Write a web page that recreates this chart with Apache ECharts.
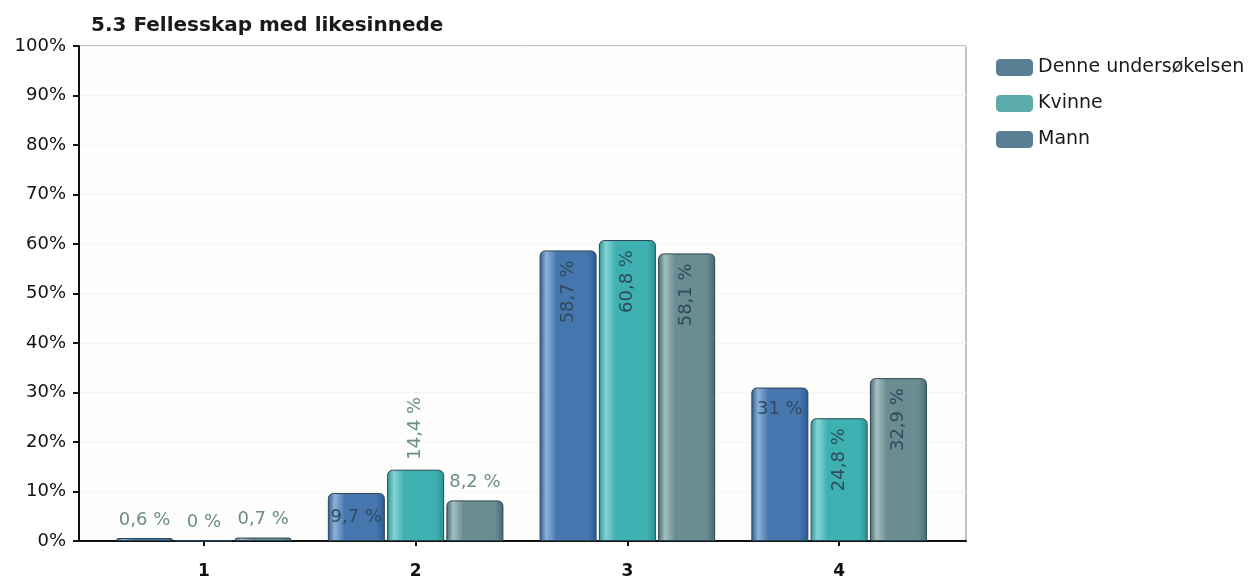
<!DOCTYPE html>
<html>
<head>
<meta charset="utf-8">
<script src="https://cdn.jsdelivr.net/npm/echarts@6/dist/echarts.min.js"></script>
<style>
  html, body { margin: 0; padding: 0; background: #ffffff; }
  #chart { width: 1259px; height: 576px; }
</style>
</head>
<body>
<div id="chart"></div>
<script>
// Answers per option, share of respondents (%)
const categories = ['1', '2', '3', '4'];
const seriesNames = ['Denne undersøkelsen', 'Kvinne', 'Mann'];
const denne  = [0.6, 9.7, 58.7, 31.0];
const kvinne = [0.0, 14.4, 60.8, 24.8];
const mann   = [0.7, 8.2, 58.1, 32.9];
const yTicks = [0, 10, 20, 30, 40, 50, 60, 70, 80, 90, 100];

// How each value label sits on its bar
const labelModes = [
  ['above', 'center', 'rotInside', 'flatInside'],
  ['above', 'rotAbove', 'rotInside', 'rotInside'],
  ['above', 'above', 'rotInside', 'rotInside']
];

const FONT = 'DejaVu Sans, Verdana, sans-serif';

const palette = [
  { dark: '#2b5a8f', light: '#8db1d8', mid: '#4676ae', legend: '#5a7f94' },
  { dark: '#2a9294', light: '#86d4d4', mid: '#3eb0b1', legend: '#5aabaa' },
  { dark: '#466a70', light: '#a6bec0', mid: '#6a8d92', legend: '#5a7f94' }
];

const fmt = v => String(v).replace('.', ',') + ' %';

function labelFor(mode) {
  const base = {
    show: true,
    fontFamily: FONT,
    fontSize: 18,
    formatter: p => fmt(p.value)
  };
  if (mode === 'above') return Object.assign(base, { position: 'top', distance: 9, color: '#6d8c84' });
  if (mode === 'center') return Object.assign(base, { position: 'inside', color: '#2f4a5e' });
  if (mode === 'flatInside') return Object.assign(base, { position: 'insideTop', distance: 13, color: '#2f4a5e' });
  if (mode === 'rotInside') return Object.assign(base, { position: 'insideTop', rotate: 90, align: 'right', verticalAlign: 'middle', distance: 10, color: '#2f4a5e' });
  if (mode === 'rotAbove') return Object.assign(base, { position: 'top', rotate: 90, align: 'left', verticalAlign: 'middle', distance: 10, color: '#6d8c84' });
  return base;
}

function barSeries(idx, values) {
  const c = palette[idx];
  return {
    name: seriesNames[idx],
    type: 'bar',
    xAxisIndex: 1,
    yAxisIndex: 1,
    barWidth: 57,
    barGap: '4%',
    data: values.map((v, i) => ({ value: v, label: labelFor(labelModes[idx][i]) })),
    itemStyle: {
      borderColor: '#2b4655',
      borderWidth: 1,
      borderRadius: [5, 5, 0, 0],
      color: {
        type: 'linear', x: 0, y: 0, x2: 1, y2: 0,
        colorStops: [
          { offset: 0, color: c.dark },
          { offset: 0.12, color: c.light },
          { offset: 0.3, color: c.mid },
          { offset: 0.85, color: c.mid },
          { offset: 1, color: c.dark }
        ]
      }
    }
  };
}

const chart = echarts.init(document.getElementById('chart'));
chart.setOption({
  animation: false,
  backgroundColor: '#ffffff',
  title: {
    text: '5.3 Fellesskap med likesinnede',
    left: 86, top: 11,
    textStyle: { fontFamily: FONT, fontSize: 20, fontWeight: 'bold', color: '#1a1a1a' }
  },
  legend: {
    orient: 'vertical',
    left: 991, top: 53,
    itemWidth: 37, itemHeight: 17, itemGap: 17,
    icon: 'roundRect',
    data: seriesNames.map((n, i) => ({ name: n, itemStyle: { color: palette[i].legend, borderWidth: 0 } })),
    textStyle: { fontFamily: FONT, fontSize: 19, color: '#1a1a1a', padding: [0, 0, 0, 0] }
  },
  grid: [
    { left: 79, right: 293, top: 46, bottom: 35, outerBoundsMode: 'none', show: true, backgroundColor: '#fdfdfb', borderColor: '#8a8a8a', borderWidth: 1 },
    { left: 98, right: 314, top: 46, bottom: 35, outerBoundsMode: 'none' }
  ],
  xAxis: [
    { type: 'category', gridIndex: 0, data: [''], axisLine: { lineStyle: { color: '#111', width: 2 } }, axisTick: { show: false }, axisLabel: { show: false } },
    {
      type: 'category', gridIndex: 1, data: categories,
      axisLine: { show: false },
      axisTick: { show: true, alignWithLabel: true, length: 5, lineStyle: { color: '#111', width: 2 } },
      axisLabel: { margin: 22, fontFamily: FONT, fontSize: 17, fontWeight: 'bold', color: '#111' }
    }
  ],
  yAxis: [
    {
      type: 'value', gridIndex: 0, min: yTicks[0], max: yTicks[yTicks.length - 1], interval: 10,
      axisLine: { show: true, lineStyle: { color: '#111', width: 2 } },
      axisTick: { show: true, length: 6, lineStyle: { color: '#111', width: 2 } },
      splitLine: { show: true, lineStyle: { color: '#f3f3f0', width: 1 } },
      axisLabel: { margin: 13, formatter: '{value}%', fontFamily: FONT, fontSize: 18, color: '#111' }
    },
    { type: 'value', gridIndex: 1, min: 0, max: 100, show: false }
  ],
  series: [barSeries(0, denne), barSeries(1, kvinne), barSeries(2, mann)]
});
</script>
</body>
</html>
